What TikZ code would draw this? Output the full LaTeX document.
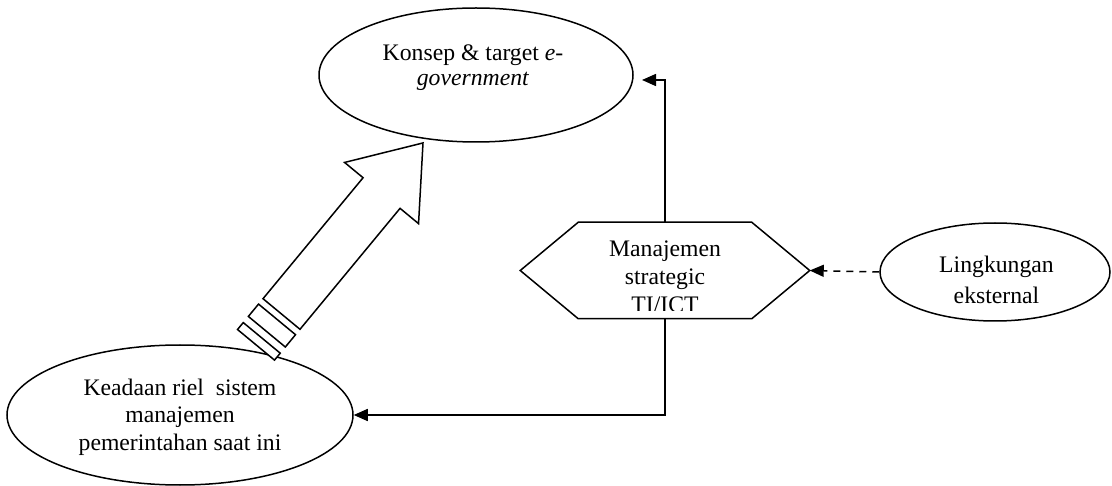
\documentclass[tikz,border=0pt]{standalone}
\usepackage{fontspec}
\setmainfont{Liberation Serif}
\usetikzlibrary{shapes.geometric,arrows.meta}

\begin{document}
\begin{tikzpicture}[x=1pt, y=-1pt, line width=1.5pt,
		oval/.style={draw, ellipse, inner sep=0pt},
		boxtext/.style={align=center, inner sep=0pt, font=\fontsize{23.7}{27.5}\selectfont},
		conn/.style={-{Triangle[length=14pt,width=12pt]}}]
		\useasboundingbox (0,0) rectangle (1112,486);
		
		\node [oval, minimum width=314pt, minimum height=134pt] (konsep) at (476,75) {};
		\node [oval, minimum width=346pt, minimum height=140pt] (keadaan) at (180,415) {};
		\node [oval, minimum width=230pt, minimum height=98pt] (lingkungan) at (995,272) {};
		\node [minimum width=288pt, minimum height=95pt, inner sep=0pt] (manajemen) at (665,270.5) {};
		\draw (manajemen.west) -- ([xshift=58pt]manajemen.north west) -- ([xshift=-58pt]manajemen.north east)
			-- (manajemen.east) -- ([xshift=-58pt]manajemen.south east) -- ([xshift=58pt]manajemen.south west) -- cycle;
		
		\node [boxtext, font=\fontsize{23.7}{24.3}\selectfont] (konsep-t) at (473,67.5) {Konsep \& target \textit{e-}\\\textit{government}};
		\node [boxtext] (keadaan-t) at (180,417) {Keadaan riel\ \ sistem\\manajemen\\pemerintahan saat ini};
		\begin{scope}
		\clip (579,223) rectangle (751,311);
		\node [boxtext, font=\fontsize{23.7}{28}\selectfont] (manajemen-t) at (665,277) {Manajemen\\strategic\\TI/ICT};
		\end{scope}
		\node [boxtext, font=\fontsize{23.7}{31.5}\selectfont] (lingkungan-t) at (996.5,280) {Lingkungan\\eksternal};
		
		\coordinate (konsep-in) at (642,80);
		\draw [conn] (manajemen.north) |- (konsep-in);
		\draw [conn] (manajemen.south) |- (keadaan.east);
		\draw [conn, dash pattern=on 7pt off 6pt] (lingkungan.west) -- (manajemen.east);
		
		% big arrow from keadaan to konsep
		\begin{scope} [shift={(281.5,314)}, rotate=50.4]
		\draw [fill=white] (0,-24) -- (157,-24) -- (157,-48) -- (222,0) -- (157,48) -- (157,24) -- (0,24) -- cycle;
		\draw [fill=white] (-7,-24) rectangle (-23,24);
		\draw [fill=white] (-31,-24) rectangle (-40,24);
		\end{scope}
		
		\end{tikzpicture}
\end{document}
